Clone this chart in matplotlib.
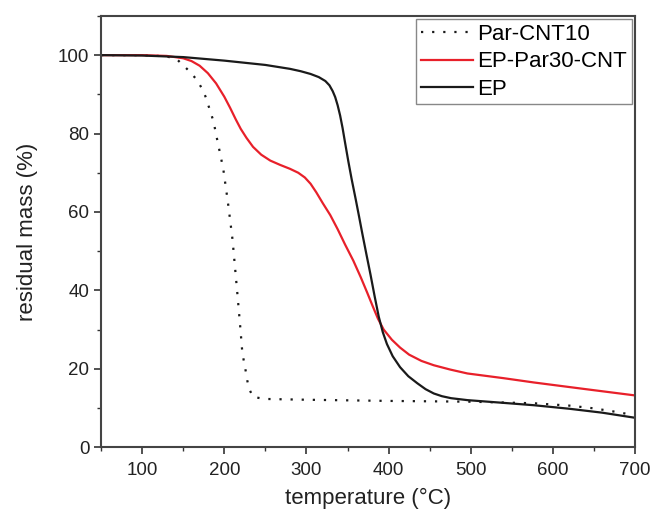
import matplotlib
matplotlib.use("Agg")
import matplotlib.pyplot as plt
from matplotlib.ticker import MultipleLocator

plt.rcParams['font.family'] = ['Liberation Sans', 'DejaVu Sans']

# Par-CNT10 (dotted)
par_T = [50, 100, 130, 143, 158, 167, 173, 177, 182, 187, 190, 193, 196, 199, 201, 203,
         205, 210, 213, 216, 219.5, 222, 225.6, 228, 230, 235, 250, 300, 400, 500, 577, 620, 650, 680, 700]
par_M = [100, 100, 99.7, 98.8, 95.8, 93.6, 91.4, 89.5, 86.3, 83, 79.8, 76.8, 73.8, 70.6, 67.6, 64.6,
         61.5, 53, 46, 39, 30.5, 24, 20, 17, 15, 12.8, 12.3, 12.1, 11.8, 11.6, 11.2, 10.6, 9.9, 8.9, 8.1]

# EP-Par30-CNT (red)
red_T = [50, 100, 130, 150, 160, 170, 180, 190, 200, 207, 214, 220, 227, 235, 245, 256, 268, 280,
         290, 298, 305, 312, 320, 329, 338, 347, 357, 366, 374, 381, 387, 394, 404, 414, 425, 440,
         455, 475, 496, 540, 577, 640, 700]
red_M = [100, 100, 99.8, 99.2, 98.5, 97.3, 95.4, 92.8, 89.4, 86.6, 83.6, 81.2, 78.9, 76.6, 74.6,
         73.1, 72.0, 71.0, 70.0, 68.8, 67.2, 65.0, 62.2, 59.2, 55.6, 51.7, 47.6, 43.4, 39.4, 35.8,
         32.8, 30.0, 27.4, 25.4, 23.6, 22.0, 20.9, 19.8, 18.8, 17.6, 16.5, 14.8, 13.2]

# EP (black)
ep_T = [50, 100, 150, 200, 250, 280, 293, 305, 315, 323, 328, 332, 335, 338, 341, 344, 347, 351,
        355, 360, 364, 368, 373, 378, 383, 388, 393, 398, 405, 414, 424, 435, 445, 455, 465, 476,
        496, 540, 577, 620, 660, 700]
ep_M = [100, 99.9, 99.5, 98.6, 97.5, 96.5, 95.9, 95.2, 94.4, 93.4, 92.3, 90.8, 89.3, 87.2, 84.6,
        81.4, 77.7, 72.9, 68.4, 63.2, 58.9, 54.5, 49.2, 44.0, 38.5, 33.3, 29.3, 26.3, 23.2, 20.4,
        18.1, 16.3, 14.8, 13.7, 13.0, 12.5, 12.0, 11.3, 10.7, 9.8, 8.8, 7.5]

labels = ["Par-CNT10", "EP-Par30-CNT", "EP"]

fig = plt.figure(figsize=(6.52, 5.14), dpi=100)
ax = fig.add_axes([0.155, 0.130, 0.819, 0.839])

ax.plot(par_T, par_M, color='#1a1a1a', lw=1.6, linestyle=(0, (1, 4)), label=labels[0])
ax.plot(red_T, red_M, color='#e8202a', lw=1.6, label=labels[1])
ax.plot(ep_T, ep_M, color='#1a1a1a', lw=1.6, label=labels[2])

ax.set_xlim(50, 700)
ax.set_ylim(0, 110)
ax.xaxis.set_major_locator(MultipleLocator(100))
ax.xaxis.set_minor_locator(MultipleLocator(50))
ax.yaxis.set_minor_locator(MultipleLocator(10))
ax.set_yticks([0, 20, 40, 60, 80, 100])
ax.tick_params(which='major', direction='out', length=5, width=1.2, labelsize=13.5, colors='#333333',
               labelcolor='#222222')
ax.tick_params(axis='x', which='major', pad=6)
ax.tick_params(which='minor', direction='out', length=3, width=1.0, colors='#333333')
for s in ax.spines.values():
    s.set_linewidth(1.5)
    s.set_color('#444444')

ax.set_xlabel("temperature (°C)", fontsize=16, color='#222222', labelpad=6)
ax.set_ylabel("residual mass (%)", fontsize=16, color='#222222', labelpad=14)

leg = ax.legend(loc='upper right', fontsize=16, frameon=True, fancybox=False, framealpha=1,
                edgecolor='#888888', handlelength=2.35, handletextpad=0.2, labelspacing=0.3,
                borderpad=0.2, borderaxespad=0.15)
leg.get_frame().set_linewidth(1.0)

fig.savefig("out.png", dpi=100)
